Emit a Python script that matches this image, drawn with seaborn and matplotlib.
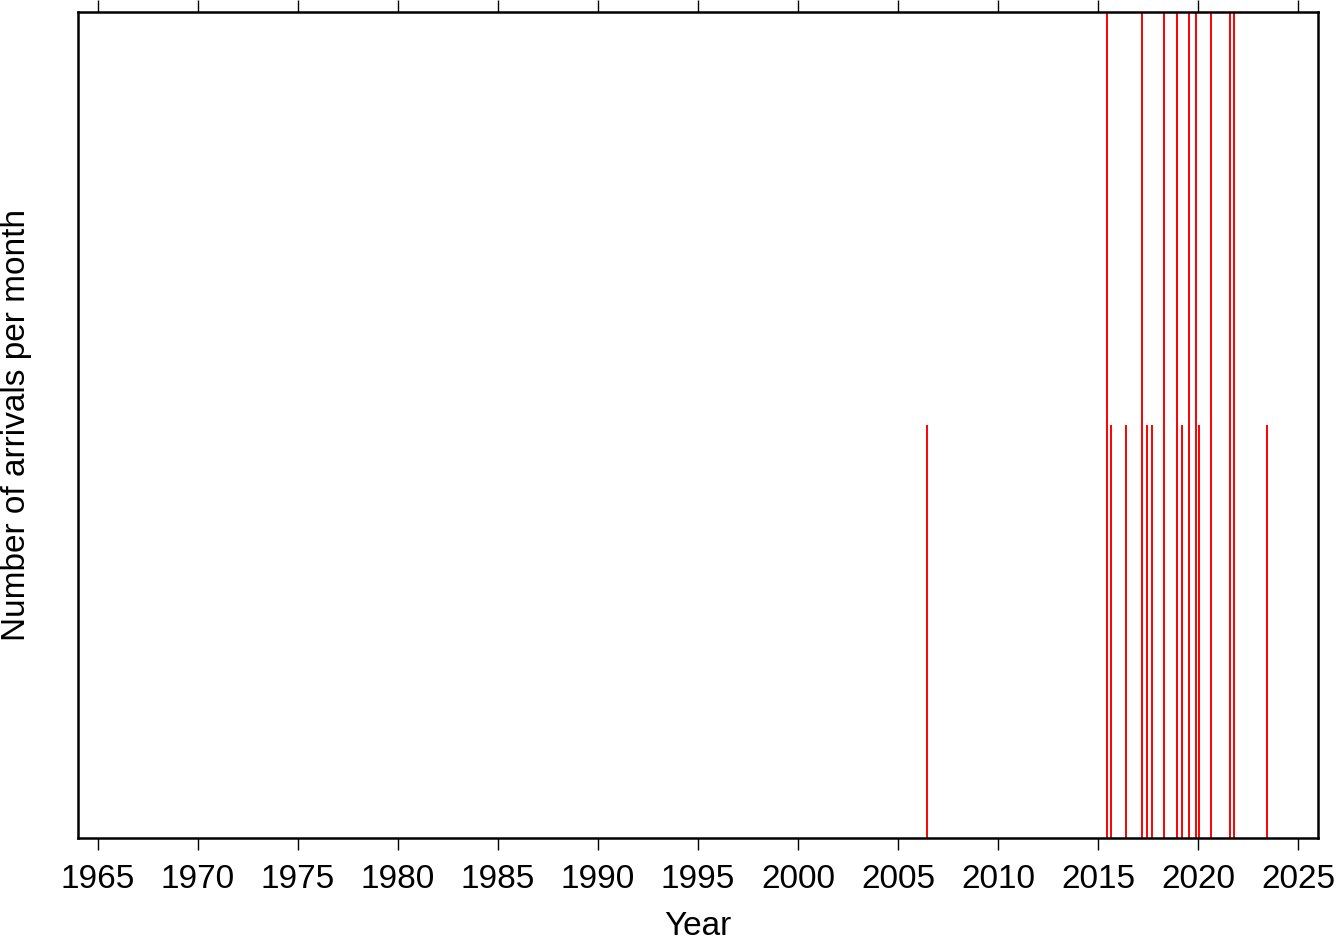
import numpy as np
import pandas as pd
import matplotlib
matplotlib.use("Agg")
import matplotlib.pyplot as plt
import seaborn as sns

# Meses con llegadas (año decimal) y numero de llegadas
fechas = [2006.45, 2015.44, 2015.64, 2016.39, 2017.19, 2017.47, 2017.72,
          2018.29, 2018.97, 2019.19, 2019.54, 2019.89, 2020.04, 2020.64,
          2021.62, 2021.80, 2023.47]
llegadas = [1, 2, 1, 1, 2, 1, 1,
            2, 2, 1, 2, 2, 1, 2,
            2, 2, 1]
anios_ticks = list(range(1965, 2030, 5))

df = pd.DataFrame({"fecha": fechas, "llegadas": llegadas})

sns.set_theme(style="ticks")
plt.rcParams['font.family'] = ['Liberation Sans', 'DejaVu Sans']

fig = plt.figure(figsize=(13.44, 9.42), dpi=100)
ax = fig.add_axes([0.058, 0.1104, 0.9227, 0.8769])

ax.vlines(df["fecha"], 0, df["llegadas"], color="#ff0000", linewidth=1.4)

ax.set_xlim(1964.0, 2026.0)
ax.set_ylim(0, 2)
ax.set_xticks(anios_ticks)
ax.set_xticklabels([str(a) for a in anios_ticks], fontsize=24, color="black")
ax.set_yticks([])
ax.tick_params(axis="x", which="both", direction="out", length=8.5, width=1.0,
               color="black", pad=10, top=True, labeltop=False)

for s in ax.spines.values():
    s.set_visible(True)
    s.set_linewidth(1.8)
    s.set_color("black")

ax.set_xlabel("Year", fontsize=24, labelpad=12, color="black")
ax.set_ylabel("Number of arrivals per month", fontsize=24, color="black")
ax.yaxis.set_label_coords(-0.037, 0.5)

fig.savefig("out.png", dpi=100, facecolor="white")
